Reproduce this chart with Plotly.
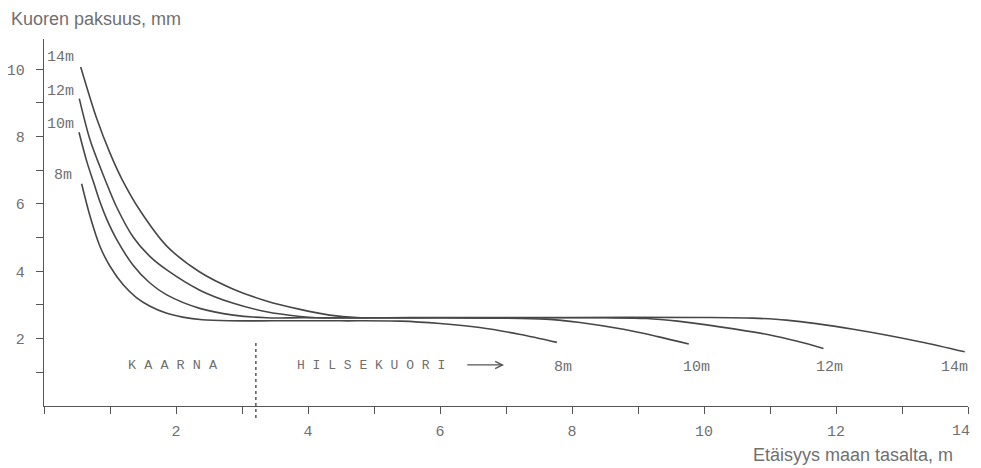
import plotly.graph_objects as go

# ---- data ----
x8 = [0.57, 0.70, 0.85, 1.0, 1.2, 1.4, 1.6, 1.85, 2.1, 2.4, 2.8, 3.5, 4.5, 5.4, 6.0, 6.6, 7.2, 7.77]
y8 = [6.60, 5.62, 4.73, 4.15, 3.60, 3.22, 2.97, 2.76, 2.64, 2.56, 2.53, 2.53, 2.53, 2.52, 2.45, 2.33, 2.13, 1.89]

x10 = [0.53, 0.65, 0.75, 0.85, 0.95, 1.10, 1.35, 1.6, 1.86, 2.36, 2.87, 3.37, 3.9, 4.5, 6.0, 7.6, 8.12, 8.8, 9.3, 9.77]
y10 = [8.13, 7.25, 6.65, 6.05, 5.55, 4.95, 4.18, 3.66, 3.30, 2.90, 2.70, 2.62, 2.62, 2.62, 2.62, 2.58, 2.48, 2.27, 2.06, 1.84]

x12 = [0.535, 0.70, 0.92, 1.10, 1.35, 1.6, 1.86, 2.36, 2.87, 3.37, 3.88, 4.13, 5.0, 7.0, 8.5, 9.13, 9.6, 10.24, 11.0, 11.4, 11.81]
y12 = [9.13, 7.89, 6.75, 5.91, 5.02, 4.45, 4.04, 3.44, 3.05, 2.80, 2.66, 2.62, 2.62, 2.62, 2.62, 2.60, 2.52, 2.35, 2.11, 1.93, 1.71]

x14 = [0.556, 0.80, 1.0, 1.18, 1.45, 1.86, 2.36, 2.87, 3.37, 3.88, 4.33, 4.74, 6.0, 8.0, 10.0, 10.74, 11.25, 12.26, 13.27, 13.95]
y14 = [10.07, 8.53, 7.51, 6.74, 5.82, 4.75, 3.98, 3.47, 3.12, 2.87, 2.70, 2.63, 2.63, 2.63, 2.63, 2.61, 2.55, 2.28, 1.91, 1.61]

series = [("8m", x8, y8), ("10m", x10, y10), ("12m", x12, y12), ("14m", x14, y14)]

# start labels (top-left) and end labels (bottom)
start_label_pos = {"14m": (0.015, 10.36), "12m": (0.015, 9.35), "10m": (0.015, 8.37), "8m": (0.12, 6.85)}
end_label_x = {"8m": 7.87, "10m": 9.89, "12m": 11.9, "14m": 13.8}
end_label_y = 1.13

boundary_x = 3.21
region_labels = [("K A A R N A", 1.95, 1.19, 13.5), ("H I L S E K U O R I", 4.96, 1.19, 13)]
arrow_from, arrow_to, arrow_y = 6.39, 6.97, 1.22

x_max = 14
x_ticks = list(range(0, x_max + 1))
x_ticktext = [str(v) if v % 2 == 0 and 0 < v < x_max else "" for v in x_ticks]
x_last_label = str(x_max)   # drawn separately so it stays inside the page
y_ticks = list(range(1, 11))
y_ticktext = [str(v) if v % 2 == 0 else "" for v in y_ticks]

LINE = "#474747"
TXT = "#707070"
MONO = "Courier New, Liberation Mono, monospace"
SANS = "Liberation Sans, Arial, sans-serif"

fig = go.Figure()
for name, xs, ys in series:
    fig.add_trace(go.Scatter(x=xs, y=ys, mode="lines", name=name,
                             line=dict(color=LINE, width=1.6, shape="spline", smoothing=0.9),
                             hoverinfo="skip", showlegend=False))

annotations = []
for name, (ax_, ay_) in start_label_pos.items():
    annotations.append(dict(x=ax_, y=ay_, xref="x", yref="y", text=name, showarrow=False,
                            xanchor="left", yanchor="middle",
                            font=dict(family=MONO, size=15, color=TXT)))
for name, ex in end_label_x.items():
    annotations.append(dict(x=ex, y=end_label_y, xref="x", yref="y", text=name, showarrow=False,
                            xanchor="center", yanchor="middle",
                            font=dict(family=MONO, size=15, color=TXT)))
for txt, rx, ry, fs in region_labels:
    annotations.append(dict(x=rx, y=ry, xref="x", yref="y", text=txt, showarrow=False,
                            xanchor="center", yanchor="middle",
                            font=dict(family=MONO, size=fs, color=TXT)))
annotations.append(dict(x=arrow_to, y=arrow_y, ax=arrow_from, ay=arrow_y, xref="x", yref="y",
                        axref="x", ayref="y", text="", showarrow=True, arrowhead=5,
                        arrowsize=1.3, arrowwidth=1.1, arrowcolor="#555555"))
annotations.append(dict(x=x_max, y=-0.0708, xref="x", yref="paper", text=x_last_label,
                        showarrow=False, xanchor="right", yanchor="middle", xshift=4,
                        font=dict(family=MONO, size=15, color=TXT)))
annotations.append(dict(x=-0.0368, y=1.0845, xref="paper", yref="paper",
                        text="Kuoren paksuus, mm", showarrow=False, xanchor="left", yanchor="top",
                        borderpad=0, font=dict(family=SANS, size=18, color=TXT)))
annotations.append(dict(x=0.986, y=-0.1335, xref="paper", yref="paper",
                        text="Etäisyys maan tasalta, m", showarrow=False, xanchor="right", yanchor="middle",
                        font=dict(family=SANS, size=18, color=TXT)))

# the page body adds an 8px margin, so the figure is 8px smaller and margins shifted
fig.update_layout(
    width=973, height=460,
    margin=dict(l=36, r=13, t=31, b=62, autoexpand=False),
    paper_bgcolor="white", plot_bgcolor="white",
    annotations=annotations,
    shapes=[dict(type="line", xref="x", yref="paper", x0=boundary_x, x1=boundary_x,
                 y0=-0.033, y1=0.18, line=dict(color="#555555", width=1.5, dash="dot"))],
)
fig.update_xaxes(range=[0, x_max], tickvals=x_ticks, ticktext=x_ticktext, ticks="outside",
                 ticklen=7, tickwidth=1.3, tickcolor="#555555", showline=True, linecolor="#555555",
                 linewidth=1.3, showgrid=False, zeroline=False, automargin=False,
                 tickfont=dict(family=MONO, size=15, color=TXT), ticklabelstandoff=4)
fig.update_yaxes(range=[0, 10.9], tickvals=y_ticks, ticktext=y_ticktext, ticks="outside",
                 ticklen=7, tickwidth=1.3, tickcolor="#555555", showline=True, linecolor="#555555",
                 linewidth=1.3, showgrid=False, zeroline=False, automargin=False,
                 tickfont=dict(family=MONO, size=15, color=TXT), ticklabelstandoff=8)

fig.write_html("out.html")
